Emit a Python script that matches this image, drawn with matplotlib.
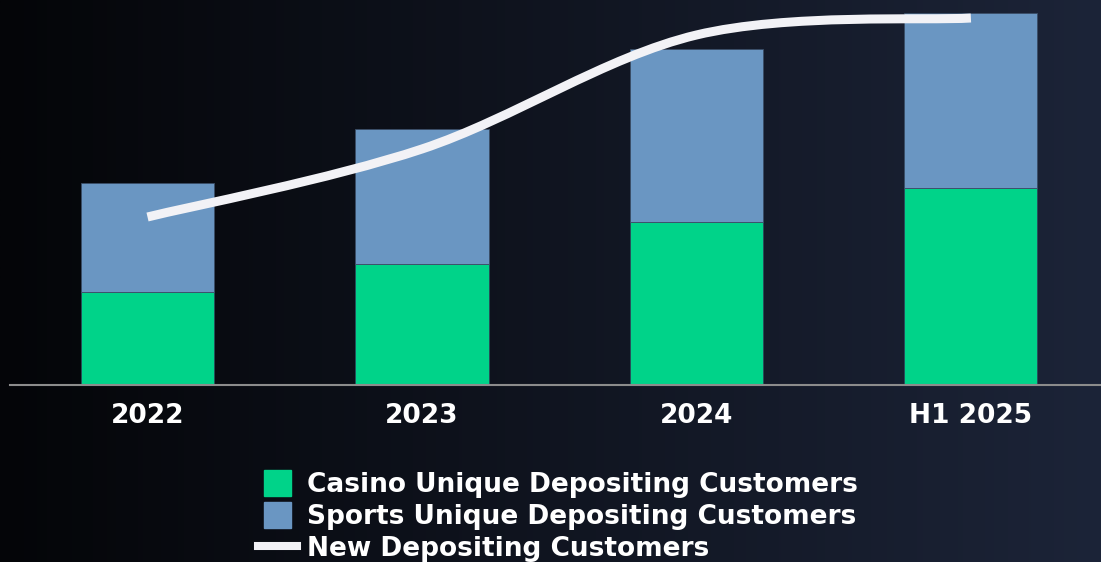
import numpy as np
import matplotlib
matplotlib.use("Agg")
import matplotlib.pyplot as plt
from matplotlib.patches import Patch, Rectangle
from matplotlib.lines import Line2D
from matplotlib.path import Path
from matplotlib.patches import PathPatch
from matplotlib.legend_handler import HandlerPatch

# Customer counts (index units)
periods = ["2022", "2023", "2024", "H1 2025"]
casino = [93, 121, 163, 197]
sports = [109, 135, 173, 175]
new_depositing = [168, 236, 350, 367]

GREEN = "#00D389"
BLUE = "#6A96C2"
LINE = "#F2F2F6"

W, H = 1101, 562
fig = plt.figure(figsize=(W / 100, H / 100), dpi=100)

# dark horizontal gradient background
bg = fig.add_axes([0, 0, 1, 1], zorder=-10)
bg.set_axis_off()
c0 = np.array([4, 5, 8]) / 255.0
c1 = np.array([28, 36, 56]) / 255.0
t = np.linspace(0, 1, 512)[None, :, None]
grad = c0 + (c1 - c0) * t
bg.imshow(grad, aspect="auto", extent=[0, 1, 0, 1], origin="lower")

ax = fig.add_axes([10 / W, (H - 385) / H, 1091 / W, 385 / H])
ax.set_facecolor("none")
x = np.arange(len(periods))
bw = 0.485
ax.bar(x, casino, width=bw, color=GREEN, edgecolor="#2b4a5a", linewidth=0.6, zorder=2)
ax.bar(x, sports, width=bw, bottom=casino, color=BLUE, edgecolor="#3a4d66", linewidth=0.6, zorder=2)

# smoothed line (Catmull-Rom as cubic Bezier segments)
pts = np.column_stack([x, new_depositing]).astype(float)
ext = np.vstack([pts[0], pts, pts[-1]])
verts = [pts[0]]
codes = [Path.MOVETO]
for i in range(len(pts) - 1):
    p0, p1, p2, p3 = ext[i], ext[i + 1], ext[i + 2], ext[i + 3]
    c_a = p1 + (p2 - p0) / 6.0
    c_b = p2 - (p3 - p1) / 6.0
    verts += [c_a, c_b, p2]
    codes += [Path.CURVE4] * 3
ax.add_patch(PathPatch(Path(verts, codes), facecolor="none", edgecolor=LINE,
                       linewidth=6.5, capstyle="butt", zorder=3))

ax.set_xlim(-0.501, 3.474)
ax.set_ylim(0, 385)
ax.set_yticks([])
for s in ["top", "right", "left"]:
    ax.spines[s].set_visible(False)
ax.spines["bottom"].set_color("#8c8c8c")
ax.spines["bottom"].set_linewidth(1.5)
ax.set_xticks(x)
ax.set_xticklabels(periods, fontsize=19, fontweight="bold", color="white")
ax.tick_params(axis="x", length=0, pad=13)


def square(legend, orig_handle, xdescent, ydescent, width, height, fontsize):
    w, h = 19.4, 18.7
    cx = -xdescent + width / 2.0
    cy = -ydescent + height / 2.0
    return Rectangle((cx - w / 2, cy - h / 2), w, h)


handles = [
    Patch(color=GREEN, label="Casino Unique Depositing Customers"),
    Patch(color=BLUE, label="Sports Unique Depositing Customers"),
    Line2D([], [], color=LINE, linewidth=5.8, label="New Depositing Customers"),
]
fig.legend(handles=handles, loc="upper left",
           bbox_to_anchor=(258 / W, (H - 472) / H),
           frameon=False, borderpad=0, borderaxespad=0,
           prop={"weight": "bold", "size": 19},
           labelcolor="white", handlelength=1.48, handletextpad=0.38,
           labelspacing=0.22,
           handler_map={Patch: HandlerPatch(patch_func=square)})

fig.savefig("out.png", dpi=100)
